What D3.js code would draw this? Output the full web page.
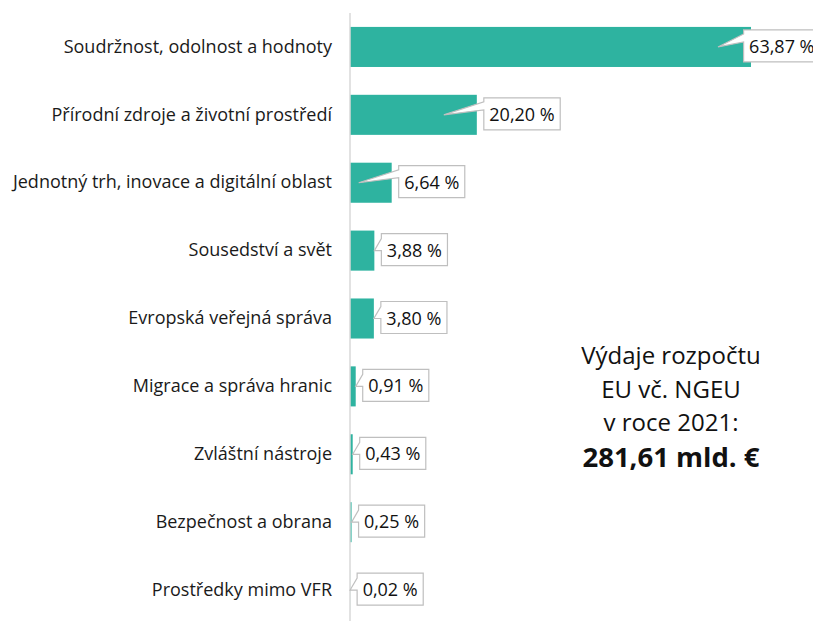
<!DOCTYPE html>
<html>
<head>
<meta charset="utf-8">
<script src="https://cdn.jsdelivr.net/npm/d3@7"></script>
<style>
  body { margin: 0; background: #fff; }
  svg { display: block; font-family: "Open Sans", sans-serif; }
</style>
</head>
<body>
<div id="chart"></div>
<script>
const categories = [
    "Soudržnost, odolnost a hodnoty",
    "Přírodní zdroje a životní prostředí",
    "Jednotný trh, inovace a digitální oblast",
    "Sousedství a svět",
    "Evropská veřejná správa",
    "Migrace a správa hranic",
    "Zvláštní nástroje",
    "Bezpečnost a obrana",
    "Prostředky mimo VFR"
]
const shares = [63.87, 20.20, 6.64, 3.88, 3.80, 0.91, 0.43, 0.25, 0.02]
const noteLines = ["Výdaje rozpočtu", "EU vč. NGEU", "v roce 2021:"]
const noteTotal = "281,61 mld. €"

const width = 813, height = 621
const barColor = "#2eb3a0"

let svg = d3.select("#chart").append("svg")
    .attr("width", width)
    .attr("height", height)

let x = d3.scaleLinear()
    .domain([0, 63.87])
    .range([350, 751])

let y = d3.scaleBand()
    .domain(categories)
    .range([13, 624])
    .paddingInner(0.41)
    .paddingOuter(0.205)

let rows = categories.map((c, i) => ({cat: c, val: shares[i]}))

// bars
svg.append("g").selectAll("rect")
    .data(rows)
    .enter().append("rect")
    .attr("x", x(0))
    .attr("y", d => y(d.cat))
    .attr("width", d => x(d.val) - x(0))
    .attr("height", y.bandwidth())
    .attr("fill", barColor)

// category axis
let yAxis = svg.append("g")
    .attr("transform", `translate(${x(0)},0)`)
    .call(d3.axisLeft(y).tickSize(0).tickPadding(18))
yAxis.select(".domain").attr("stroke", "#d9d9d9").attr("stroke-width", 1.5)
    .attr("d", `M0,13V621`)
yAxis.selectAll("text")
    .attr("font-size", "18px")
    .attr("fill", "#1a1a1a")
    .attr("font-family", "'Open Sans', sans-serif")

// callout labels
let fmt = v => d3.format(".2f")(v).replace(".", ",") + " %"
let callouts = svg.append("g").selectAll("g")
    .data(rows)
    .enter().append("g")

callouts.each(function(d) {
    let g = d3.select(this)
    let cy = y(d.cat) + y.bandwidth() / 2
    let end = x(d.val)
    let path = g.append("path")
    let txt = g.append("text")
        .text(fmt(d.val))
        .attr("font-size", "18px")
        .attr("fill", "#111")
    let tw = txt.node().getComputedTextLength()
    let bw = tw + 11, bh = 32
    // the biggest label runs past the right edge, as in the original
    let left = Math.min(end + 7, width - bw + 7)
    let top = cy - 17
    txt.attr("x", left + 5.5).attr("y", cy + 6)
    let tipX = (end - x(0)) > 30 ? end - 33 : end
    let y1 = (end - x(0)) > 30 ? top + 4 : top + 5
    let y2 = (end - x(0)) > 30 ? top + 12 : top + 17
    path.attr("d", `M${left},${top}H${left + bw}V${top + bh}H${left}V${y2}L${tipX},${cy}L${left},${y1}Z`)
        .attr("fill", "#fff")
        .attr("stroke", "#bfbfbf")
        .attr("stroke-width", 1.2)
})

// total note
let note = svg.append("g").attr("text-anchor", "middle")
note.selectAll("text.line")
    .data(noteLines)
    .enter().append("text")
    .attr("class", "line")
    .attr("x", 671)
    .attr("y", (d, i) => 364 + i * 33.5)
    .attr("font-size", "24px")
    .attr("fill", "#111")
    .text(d => d)
note.append("text")
    .attr("x", 671)
    .attr("y", 467)
    .attr("font-size", "27.5px")
    .attr("font-weight", "bold")
    .attr("fill", "#111")
    .text(noteTotal)
</script>
</body>
</html>
